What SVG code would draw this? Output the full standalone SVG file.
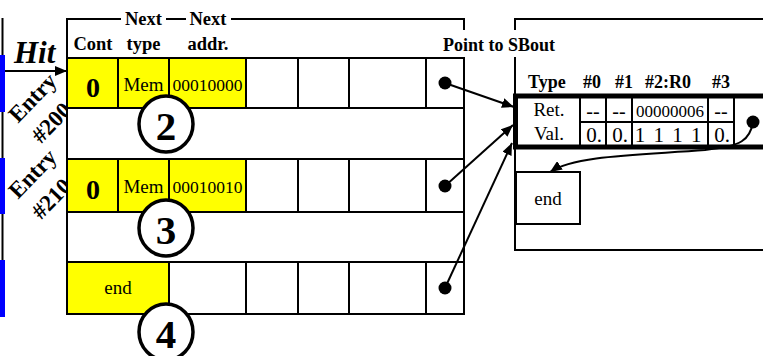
<svg xmlns="http://www.w3.org/2000/svg" width="763" height="356" viewBox="0 0 763 356">
<defs>
<style>
.ln{stroke:#000;stroke-width:2;fill:none}
.cell{stroke:#000;stroke-width:2;fill:#fff}
.ycell{stroke:#000;stroke-width:2;fill:#ffff00}
.t{font-family:"Liberation Serif","Times New Roman",serif;fill:#000}
.b{font-weight:bold}
.mid{text-anchor:middle}
.dot{fill:#000}
.num{stroke:#000;stroke-width:3.5;fill:#fff}
.blue{fill:#0000ff}
</style>
<marker id="ah" viewBox="0 0 12 10" refX="12" refY="5" markerWidth="12" markerHeight="10" markerUnits="userSpaceOnUse" orient="auto">
<path d="M0,0 L12,5 L0,10 Z" fill="#000"/>
</marker>
</defs>
<rect width="763" height="356" fill="#fff"/>

<!-- left index bar -->
<g id="index">
<line x1="2.5" y1="18" x2="2.5" y2="317" class="ln"/>
<rect class="blue" x="0" y="55" width="5" height="57"/>
<rect class="blue" x="0" y="158" width="5" height="56"/>
<rect class="blue" x="0" y="260" width="5" height="57"/>
<text class="t b" x="14" y="63" font-size="31" font-style="italic">Hit</text>
<g class="t b" font-size="23">
<text class="mid" transform="translate(38,103) rotate(-46)">Entry</text>
<text class="mid" transform="translate(57,128) rotate(-46)">#200</text>
<text class="mid" transform="translate(38,179) rotate(-46)">Entry</text>
<text class="mid" transform="translate(57,204) rotate(-46)">#210</text>
</g>
</g>

<!-- main table -->
<g id="table">
<path class="ln" d="M67,314 V19 H121 M166,19 H186 M231,19 H464 V30 M464,57 V314"/>
<g class="t b mid" font-size="18.5">
<text x="143.5" y="25">Next</text>
<text x="208" y="25">Next</text>
<text x="93" y="50">Cont</text>
<text x="143.5" y="50">type</text>
<text x="208" y="50">addr.</text>
</g>
</g>

<g id="row200">
<rect class="ycell" x="67" y="58" width="51" height="50"/>
<rect class="ycell" x="118" y="58" width="51" height="50"/>
<rect class="ycell" x="169" y="58" width="77" height="50"/>
<rect class="cell" x="246" y="58" width="52" height="50"/>
<rect class="cell" x="298" y="58" width="51" height="50"/>
<rect class="cell" x="349" y="58" width="77" height="50"/>
<rect class="cell" x="426" y="58" width="38" height="50"/>
<rect class="cell" x="67" y="108" width="397" height="51"/>
<text class="t b mid" x="93" y="97" font-size="28">0</text>
<text class="t mid" x="143.5" y="91" font-size="19">Mem</text>
<text class="t mid" x="207.5" y="91" font-size="17.5">00010000</text>
<circle class="dot" cx="445" cy="83" r="6.5"/>
</g>

<g id="row210">
<rect class="ycell" x="67" y="159" width="51" height="53"/>
<rect class="ycell" x="118" y="159" width="51" height="53"/>
<rect class="ycell" x="169" y="159" width="77" height="53"/>
<rect class="cell" x="246" y="159" width="52" height="53"/>
<rect class="cell" x="298" y="159" width="51" height="53"/>
<rect class="cell" x="349" y="159" width="77" height="53"/>
<rect class="cell" x="426" y="159" width="38" height="53"/>
<rect class="cell" x="67" y="212" width="397" height="50"/>
<text class="t b mid" x="93" y="199" font-size="28">0</text>
<text class="t mid" x="143.5" y="193" font-size="19">Mem</text>
<text class="t mid" x="207.5" y="193" font-size="17.5">00010010</text>
<circle class="dot" cx="445" cy="186" r="6.5"/>
</g>

<g id="rowEnd">
<rect class="ycell" x="67" y="262" width="102" height="52"/>
<rect class="cell" x="169" y="262" width="77" height="52"/>
<rect class="cell" x="246" y="262" width="52" height="52"/>
<rect class="cell" x="298" y="262" width="51" height="52"/>
<rect class="cell" x="349" y="262" width="77" height="52"/>
<rect class="cell" x="426" y="262" width="38" height="52"/>
<text class="t mid" x="118" y="294" font-size="19">end</text>
<circle class="dot" cx="445" cy="288" r="6.5"/>
</g>

<g id="step2">
<ellipse class="num" cx="166" cy="124" rx="27" ry="28"/>
<text class="t b mid" x="166" y="140" font-size="41">2</text>
</g>
<g id="step3">
<ellipse class="num" cx="166" cy="228" rx="27" ry="28"/>
<text class="t b mid" x="166" y="244" font-size="41">3</text>
</g>
<g id="step4">
<ellipse class="num" cx="166" cy="332" rx="27" ry="28"/>
<text class="t b mid" x="166" y="348" font-size="41">4</text>
</g>

<text class="t b" x="443" y="51" font-size="18">Point to SBout</text>

<!-- SBout -->
<g id="sbout">
<path class="ln" stroke-width="2.5" d="M515,30 V19 H763 M515,57 V250 H763"/>
<g class="t b" font-size="18">
<text x="528" y="88">Type</text>
<text x="583" y="88">#0</text>
<text x="615" y="88">#1</text>
<text x="645" y="88">#2:R0</text>
<text x="712" y="88">#3</text>
</g>
<rect x="515.5" y="96" width="252" height="51" fill="#fff" stroke="#000" stroke-width="5"/>
<path class="ln" d="M580,98 V145 M606,98 V145 M632,98 V145 M708,98 V145 M734,98 V145 M580,122 H734"/>
<g class="t mid" font-size="19">
<text x="549" y="116">Ret.</text>
<text x="549" y="140">Val.</text>
</g>
<g class="t mid" font-size="20">
<text x="593" y="118">--</text>
<text x="619" y="118">--</text>
<text x="721" y="118">--</text>
</g>
<g class="t mid" font-size="21">
<text x="594" y="142">0.</text>
<text x="620" y="142">0.</text>
<text x="668" y="142" word-spacing="3">1 1 1 1</text>
<text x="722" y="142">0.</text>
</g>
<text class="t mid" x="670" y="117" font-size="17">00000006</text>
<circle class="dot" cx="753" cy="122" r="6.5"/>
</g>

<g id="sboutEnd">
<rect class="cell" x="516" y="172" width="64" height="52"/>
<text class="t mid" x="548" y="205" font-size="19">end</text>
</g>

<!-- connectors -->
<g id="connectors" class="ln">
<line x1="5" y1="71" x2="67" y2="71" marker-end="url(#ah)"/>
<line x1="445" y1="83" x2="514" y2="107" marker-end="url(#ah)"/>
<line x1="445" y1="186" x2="513" y2="125" marker-end="url(#ah)"/>
<line x1="445" y1="288" x2="512" y2="143" marker-end="url(#ah)"/>
<path d="M753,122 C750,140 742,146 705,150 C640,155 575,155 550,172" marker-end="url(#ah)"/>
</g>
</svg>
